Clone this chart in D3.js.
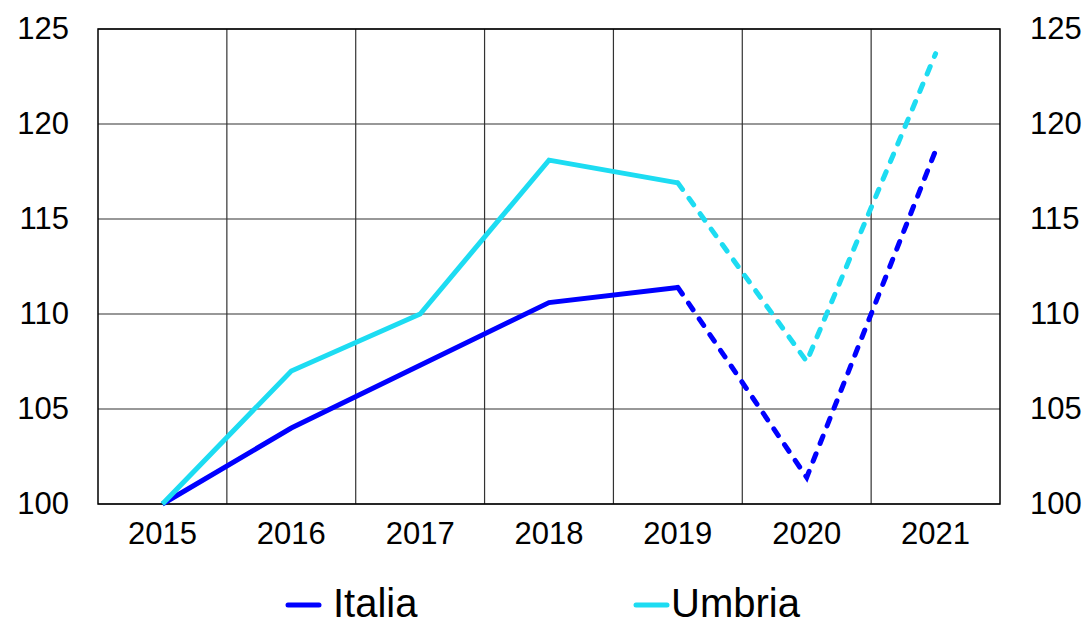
<!doctype html>
<html lang="it">

<head>
    <meta charset="utf-8">
    <title>Italia - Umbria</title>
    <script src="https://cdn.jsdelivr.net/npm/d3@7/dist/d3.min.js"></script>
    <style>
        body {
            margin: 0;
            background: #fff;
        }

        svg text {
            font-family: "Liberation Sans", Arial, Helvetica, sans-serif;
            fill: #000;
        }
    </style>
</head>

<body>
    <svg id="grafico" width="1088" height="621"></svg>
    <script>
        // dati (indice 2015 = 100)
        var anni = ["2015", "2016", "2017", "2018", "2019", "2020", "2021"];
        var italia = [100, 104.0, 107.3, 110.6, 111.4, 101.4, 118.6];
        var umbria = [100, 107.0, 110.0, 118.1, 116.9, 107.5, 123.7];
        var yTicks = [100, 105, 110, 115, 120, 125];
        var serie = [
            { nome: "Italia", valori: italia, colore: "#0000ff" },
            { nome: "Umbria", valori: umbria, colore: "#1ddcf2" }
        ];
        // gli ultimi due anni sono tratteggiati
        var ultimoPieno = 4;

        var svg = d3.select("#grafico");
        var mSx = 98, mDx = 1000, mAlto = 29, mBasso = 504;

        var x = d3.scaleBand().domain(anni).range([mSx, mDx]);
        var y = d3.scaleLinear().domain([100, 125]).range([mBasso, mAlto]);
        var cx = function (d) { return x(d) + x.bandwidth() / 2; };

        // griglia
        var grid = svg.append("g");
        grid.selectAll("line.h")
            .data(yTicks)
            .enter().append("line")
            .attr("x1", mSx).attr("x2", mDx)
            .attr("y1", function (d) { return y(d); })
            .attr("y2", function (d) { return y(d); })
            .style("stroke", "#333").style("stroke-width", 1.2);
        grid.selectAll("line.v")
            .data(anni.slice(1))
            .enter().append("line")
            .attr("x1", function (d) { return x(d); })
            .attr("x2", function (d) { return x(d); })
            .attr("y1", mAlto).attr("y2", mBasso)
            .style("stroke", "#333").style("stroke-width", 1.2);
        svg.append("rect")
            .attr("x", mSx).attr("y", mAlto)
            .attr("width", mDx - mSx).attr("height", mBasso - mAlto)
            .style("fill", "none").style("stroke", "#000").style("stroke-width", 1.5);

        // assi
        var axSx = svg.append("g").attr("transform", "translate(69,0)")
            .call(d3.axisLeft(y).tickValues(yTicks).tickSize(0).tickPadding(0));
        var axDx = svg.append("g").attr("transform", "translate(1030,0)")
            .call(d3.axisRight(y).tickValues(yTicks).tickSize(0).tickPadding(0));
        var axX = svg.append("g").attr("transform", "translate(0," + (mBasso + 18) + ")")
            .call(d3.axisBottom(x).tickSize(0).tickPadding(0));
        [axSx, axDx, axX].forEach(function (a) {
            a.select(".domain").remove();
            a.selectAll("text").style("font-size", "31px").attr("font-family", null);
        });

        // linee
        var linea = d3.line()
            .x(function (d) { return cx(d.anno); })
            .y(function (d) { return y(d.v); });

        serie.forEach(function (s) {
            var punti = anni.map(function (a, i) { return { anno: a, v: s.valori[i] }; });
            svg.append("path")
                .attr("d", linea(punti.slice(0, ultimoPieno + 1)))
                .style("fill", "none")
                .style("stroke", s.colore)
                .style("stroke-width", 5)
                .style("stroke-linejoin", "miter");
            svg.append("path")
                .attr("d", linea(punti.slice(ultimoPieno)))
                .style("fill", "none")
                .style("stroke", s.colore)
                .style("stroke-width", 5)
                .style("stroke-linecap", "round")
                .style("stroke-dasharray", "8,11");
        });

        // legenda
        var leg = svg.append("g");
        var legPos = [{ lx: 288, tx: 333 }, { lx: 636, tx: 671 }];
        serie.forEach(function (s, i) {
            leg.append("line")
                .attr("x1", legPos[i].lx).attr("x2", legPos[i].lx + 31)
                .attr("y1", 605).attr("y2", 605)
                .style("stroke", s.colore).style("stroke-width", 5)
                .style("stroke-linecap", "round");
            leg.append("text")
                .attr("x", legPos[i].tx).attr("y", 617)
                .style("font-size", "40px")
                .text(s.nome);
        });
    </script>
</body>

</html>
